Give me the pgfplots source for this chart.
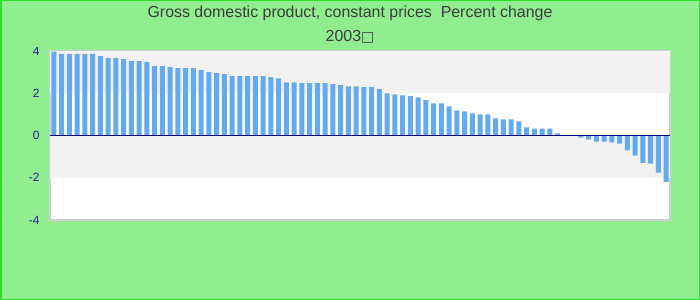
\documentclass[border=0pt]{standalone}
\usepackage{fontspec}
\setmainfont{Liberation Sans}
\newfontfamily\dejavu{DejaVu Sans}
\usepackage{pgfplots}
\pgfplotsset{compat=1.18}
\definecolor{bgc}{RGB}{144,238,144}
\definecolor{framec}{RGB}{40,225,40}
\definecolor{titlec}{RGB}{60,60,60}
\definecolor{bandc}{RGB}{242,242,242}
\definecolor{barc}{RGB}{99,170,240}
\definecolor{navyc}{RGB}{0,0,128}
\definecolor{tickc}{RGB}{30,30,140}
\definecolor{axc}{RGB}{208,208,208}
\begin{document}
\begin{tikzpicture}
\fill[bgc] (0bp,0bp) rectangle (700bp,300bp);
\draw[framec, line width=1.5bp] (0.75bp,0.75bp) rectangle (699.25bp,299.25bp);
\node[text=titlec, font=\fontsize{16}{19}\selectfont, inner sep=0pt] at (350bp,287bp) {Gross domestic product, constant prices\ \ Percent change};
\node[text=titlec, font=\fontsize{16}{19}\selectfont, inner sep=0pt] at (350bp,263bp) {2003{\dejavu\fontsize{14}{16}\selectfont □}};
\begin{axis}[
  at={(50bp,80bp)}, anchor=south west,
  scale only axis, width=620bp, height=169bp,
  xmin=-0.5, xmax=79.5, ymin=-4, ymax=4,
  ytick={-4,-2,0,2,4}, xtick=\empty,
  major tick length=0pt,
  axis line style={draw=axc, line width=1.2bp},
  axis background/.style={fill=white},
  yticklabel style={font=\fontsize{12}{14}\selectfont, text=tickc, xshift=-7bp},
  /pgf/number format/assume math mode=true,
  ybar, bar width=5bp,
  clip=true,
]
\fill[bandc] (axis cs:-0.5,2) rectangle (axis cs:79.5,4);
\fill[bandc] (axis cs:-0.5,-2) rectangle (axis cs:79.5,0);
\addplot[fill=barc, draw=none] coordinates {
(0,3.97) (1,3.86) (2,3.86) (3,3.86) (4,3.86) (5,3.86) (6,3.76) (7,3.67) (8,3.67) (9,3.62)
(10,3.52) (11,3.52) (12,3.48) (13,3.29) (14,3.29) (15,3.24) (16,3.19) (17,3.19) (18,3.19) (19,3.10)
(20,3.00) (21,2.95) (22,2.90) (23,2.81) (24,2.81) (25,2.81) (26,2.81) (27,2.81) (28,2.76) (29,2.71)
(30,2.52) (31,2.52) (32,2.48) (33,2.48) (34,2.48) (35,2.48) (36,2.43) (37,2.38) (38,2.33) (39,2.33)
(40,2.29) (41,2.29) (42,2.19) (43,2.00) (44,1.95) (45,1.90) (46,1.86) (47,1.81) (48,1.67) (49,1.52)
(50,1.52) (51,1.38) (52,1.19) (53,1.14) (54,1.05) (55,1.00) (56,1.00) (57,0.81) (58,0.76) (59,0.76)
(60,0.67) (61,0.38) (62,0.33) (63,0.33) (64,0.33) (65,0.10) (66,0.00) (67,0.00) (68,-0.10) (69,-0.19)
(70,-0.29) (71,-0.29) (72,-0.33) (73,-0.38) (74,-0.71) (75,-0.95) (76,-1.29) (77,-1.33) (78,-1.76) (79,-2.19)
};
\draw[navyc, line width=1.3bp] (axis cs:-0.5,0) -- (axis cs:79.5,0);
\end{axis}
\end{tikzpicture}
\end{document}
